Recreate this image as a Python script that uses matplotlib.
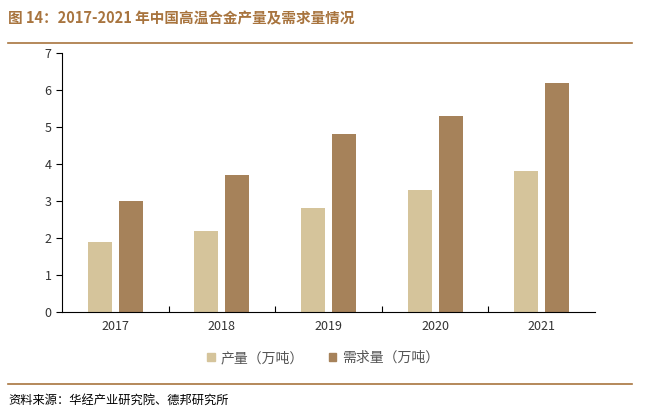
import matplotlib
matplotlib.use("Agg")
import matplotlib.pyplot as plt
from matplotlib.lines import Line2D
import numpy as np

plt.rcParams['font.family'] = ['Noto Sans CJK SC', 'DejaVu Sans']

years = ["2017", "2018", "2019", "2020", "2021"]
production = [1.9, 2.2, 2.8, 3.3, 3.8]
demand = [3.0, 3.7, 4.8, 5.3, 6.2]
series_names = ["产量（万吨）", "需求量（万吨）"]
title = "图 14：2017-2021 年中国高温合金产量及需求量情况"
source = "资料来源：华经产业研究院、德邦研究所"

c_light = "#d5c49b"
c_dark = "#a6825a"
brown = "#a8743e"

fig = plt.figure(figsize=(6.47, 4.15), dpi=100)
W, H = 647, 415
ax = fig.add_axes([62 / W, 1 - 312 / H, (595 - 62) / W, (312 - 53) / H])

x = np.arange(len(years))
bw = 0.225
off = 0.145
ax.bar(x - off, production, bw, color=c_light, label=series_names[0])
ax.bar(x + off, demand, bw, color=c_dark, label=series_names[1])

ax.set_xlim(-0.5, len(years) - 0.5)
ax.set_ylim(0, 7)
ax.set_yticks(range(0, 8))
ax.set_xticks(x)
ax.set_xticklabels(years)
ax.tick_params(axis='x', length=0, labelsize=9, pad=6, labelcolor='#333333')
ax.tick_params(axis='y', length=4, direction='out', labelsize=9, width=0.8, labelcolor='#333333')
ax.set_xticks(np.arange(0.5, len(years) - 0.5, 1), minor=True)
ax.tick_params(axis='x', which='minor', length=4, direction='in', width=0.8)
for s in ['top', 'right']:
    ax.spines[s].set_visible(False)
for s in ['left', 'bottom']:
    ax.spines[s].set_linewidth(0.8)
    ax.spines[s].set_color('black')

handles = [plt.Rectangle((0, 0), 1, 1, color=c_light), plt.Rectangle((0, 0), 1, 1, color=c_dark)]
fig.legend(handles, series_names, loc='center', bbox_to_anchor=(323 / W, 1 - 358 / H),
           ncol=2, frameon=False, fontsize=10, handlelength=0.55, handleheight=0.55,
           columnspacing=1.8, handletextpad=0.4, labelcolor='#555555')

fig.text(8 / W, 1 - 18 / H, title, fontsize=10.5, fontweight='bold', color=brown, va='center', ha='left')
fig.add_artist(Line2D([8 / W, 632 / W], [1 - 43 / H, 1 - 43 / H], color=brown, lw=1.2))
fig.add_artist(Line2D([8 / W, 632 / W], [1 - 384 / H, 1 - 384 / H], color=brown, lw=1.2))
fig.text(8 / W, 1 - 400 / H, source, fontsize=8.8, color='black', va='center', ha='left')

fig.savefig("out.png", dpi=100)
